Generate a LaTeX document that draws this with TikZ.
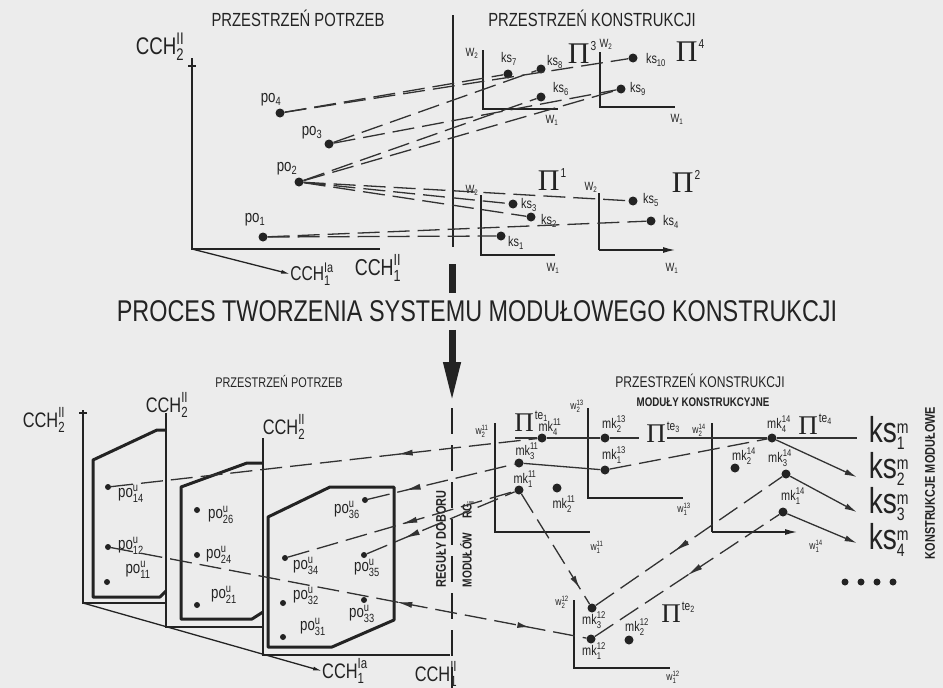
\documentclass[tikz,border=0pt]{standalone}
\usepackage{amsmath}
\usepackage{fontspec}
\setmainfont[FakeStretch=0.78]{Liberation Sans}
\newfontfamily\pifont{Liberation Serif}
\usetikzlibrary{
  arrows.meta,
  positioning,
  calc,
  decorations.markings
}
\definecolor{inkcolor}{RGB}{35, 35, 35}
\definecolor{papercolor}{RGB}{236, 236, 236}
\definecolor{linkcolor}{RGB}{50, 50, 50}
\newcommand{\fsz}[1]{\fontsize{#1}{#1}\selectfont}
\newcommand{\lbsub}[3]{$\text{#1}^{\text{#2}}_{\text{#3}}$}
\newcommand{\bigpi}[3]{{\pifont\fsz{#1}Π}\hspace{1pt}\raisebox{#2}{\fsz{13}#3}}
\tikzset{
axisline/.style={
  draw=inkcolor,
  line width=1.3pt
},
regionline/.style={
  draw=inkcolor,
  line width=3pt,
  line join=round
},
linkline/.style={
  draw=linkcolor,
  line width=1.3pt,
  dash pattern=on 22pt off 8pt
},
plainlink/.style={
  draw=linkcolor,
  line width=1.3pt
},
gapline/.style={
  draw=inkcolor,
  line width=1.8pt,
  dash pattern=on 26pt off 11pt
},
dotnode/.style={
  circle,
  fill=inkcolor,
  inner sep=0pt,
  minimum size=9pt
},
smalldot/.style={
  circle,
  fill=inkcolor,
  inner sep=0pt,
  minimum size=6pt
},
lbl/.style={
  text=inkcolor,
  inner sep=0pt,
  font=\fsz{14}
},
backtip/.style={
  postaction={decorate, decoration={markings,
    mark=at position #1 with {\arrowreversed{Latex[length=16pt,width=6pt]}}}}
},
fwdtip/.style={
  postaction={decorate, decoration={markings,
    mark=at position #1 with {\arrow{Latex[length=12pt,width=6pt]}}}}
},
endtip/.style={
  -{Latex[length=12pt,width=6pt]}
}
}

\begin{document}
\begin{tikzpicture}[x=1pt, y=-1pt]
  \useasboundingbox (0,0) rectangle (943,688);
  \fill[papercolor] (0,0) rectangle (943,688);

  % upper part: needs space
  \node[lbl, font=\fsz{19}] (needsA) at (298,18) {PRZESTRZEŃ POTRZEB};
  \node[lbl, font=\fsz{19}] (constrA) at (592,18) {PRZESTRZEŃ KONSTRUKCJI};
  \coordinate (oA) at (192,249);
  \draw[axisline] (192,58) -- (oA) -- (380,249);
  \draw[axisline] (188,66) -- (196,66);
  \node[lbl, font=\fsz{24}] (cch2A) at (160,47) {\lbsub{CCH}{II}{2}};
  \node[lbl, font=\fsz{20}] (cch1aA) at (312,274) {\lbsub{CCH}{Ia}{1}};
  \node[lbl, font=\fsz{23}] (cch1bA) at (378,268) {\lbsub{CCH}{II}{1}};
  \draw[axisline, -{Latex[length=9pt,width=4pt]}] (oA) -- (cch1aA.west);

  \node[dotnode] (po4) at (280,113) {};
  \node[dotnode] (po3) at (329,144) {};
  \node[dotnode] (po2) at (299,182) {};
  \node[dotnode] (po1) at (263,237) {};
  \node[lbl, font=\fsz{17}] (po4l) at (271,100) {po$_{\text{4}}$};
  \node[lbl, font=\fsz{17}] (po3l) at (312,133) {po$_{\text{3}}$};
  \node[lbl, font=\fsz{17}] (po2l) at (287,169) {po$_{\text{2}}$};
  \node[lbl, font=\fsz{17}] (po1l) at (255,220) {po$_{\text{1}}$};

  \coordinate (sepA) at (453,15);
  \coordinate (sepAb) at (453,247);
  \draw[axisline] (sepA) -- (sepAb);

  % upper part: construction space
  \coordinate (oP3) at (483,109);
  \draw[axisline] (483,50) -- (oP3) -- (558,109);
  \coordinate (oP4) at (600,107);
  \draw[axisline] (600,52) -- (oP4) -- (675,107);
  \coordinate (oP1) at (481,255);
  \draw[axisline] (481,195) -- (oP1) -- (555,255);
  \coordinate (oP2) at (599,250);
  \draw[axisline] (599,193) -- (oP2);
  \draw[axisline, endtip] (oP2) -- (675,250);

  \node[lbl, font=\fsz{12}] (w2P3) at (472,53) {W$_{\text{2}}$};
  \node[lbl, font=\fsz{12}] (w1P3) at (552,120) {W$_{\text{1}}$};
  \node[lbl, font=\fsz{12}] (w2P4) at (606,44) {W$_{\text{2}}$};
  \node[lbl, font=\fsz{12}] (w1P4) at (677,119) {W$_{\text{1}}$};
  \node[lbl, font=\fsz{12}] (w2P1) at (472,190) {W$_{\text{2}}$};
  \node[lbl, font=\fsz{12}] (w1P1) at (553,268) {W$_{\text{1}}$};
  \node[lbl, font=\fsz{12}] (w2P2) at (591,187) {W$_{\text{2}}$};
  \node[lbl, font=\fsz{12}] (w1P2) at (672,268) {W$_{\text{1}}$};

  \node[lbl] (pi3) at (582,52) {\bigpi{30}{13pt}{3}};
  \node[lbl] (pi4) at (690,51) {\bigpi{30}{13pt}{4}};
  \node[lbl] (pi1) at (552,180) {\bigpi{30}{13pt}{1}};
  \node[lbl] (pi2) at (686,181) {\bigpi{30}{13pt}{2}};

  \node[dotnode] (ks7) at (508,74) {};
  \node[dotnode] (ks8) at (541,69) {};
  \node[dotnode] (ks6) at (541,97) {};
  \node[dotnode] (ks10) at (633,58) {};
  \node[dotnode] (ks9) at (621,89) {};
  \node[dotnode] (ks3) at (513,204) {};
  \node[dotnode] (ks2) at (531,217) {};
  \node[dotnode] (ks1) at (501,236) {};
  \node[dotnode] (ks5) at (633,201) {};
  \node[dotnode] (ks4) at (651,221) {};
  \node[lbl, font=\fsz{14}] (ks7l) at (509,59) {ks$_{\text{7}}$};
  \node[lbl, font=\fsz{14}] (ks8l) at (555,62) {ks$_{\text{8}}$};
  \node[lbl, font=\fsz{14}] (ks6l) at (561,89) {ks$_{\text{6}}$};
  \node[lbl, font=\fsz{14}] (ks10l) at (656,60) {ks$_{\text{10}}$};
  \node[lbl, font=\fsz{14}] (ks9l) at (638,89) {ks$_{\text{9}}$};
  \node[lbl, font=\fsz{14}] (ks3l) at (529,205) {ks$_{\text{3}}$};
  \node[lbl, font=\fsz{14}] (ks2l) at (549,221) {ks$_{\text{2}}$};
  \node[lbl, font=\fsz{14}] (ks1l) at (516,243) {ks$_{\text{1}}$};
  \node[lbl, font=\fsz{14}] (ks5l) at (651,200) {ks$_{\text{5}}$};
  \node[lbl, font=\fsz{14}] (ks4l) at (671,222) {ks$_{\text{4}}$};

  \draw[linkline] (po4) -- (ks7);
  \draw[linkline] (po4) -- (ks10);
  \draw[linkline] (po3) -- (ks8);
  \draw[linkline] (po3) -- (ks9);
  \draw[linkline] (po2) -- (ks6);
  \draw[linkline] (po2) -- (ks9);
  \draw[linkline] (po2) -- (ks3);
  \draw[linkline] (po2) -- (ks2);
  \draw[linkline] (po2) -- (ks5);
  \draw[linkline] (po1) -- (ks1);
  \draw[linkline] (po1) -- (ks4);

  % process title and arrow
  \coordinate (barT) at (452,264);
  \coordinate (barB) at (452,293);
  \draw[inkcolor, line width=7pt] (barT) -- (barB);
  \node[lbl, font=\fsz{30}] (title) at (477,311) {PROCES TWORZENIA SYSTEMU MODUŁOWEGO KONSTRUKCJI};
  \coordinate (arrowtip) at (452,402);
  \draw[inkcolor, line width=7pt, -{Triangle[length=40pt,width=16pt]}]
    ($(title.south -| barB)+(0,8)$) -- (arrowtip);

  % lower part: needs spaces
  \node[lbl, font=\fsz{14}] (needsB) at (279,381) {PRZESTRZEŃ POTRZEB};
  \node[lbl, font=\fsz{15.5}] (constrB) at (700,381) {PRZESTRZEŃ KONSTRUKCJI};
  \node[lbl, font=\bfseries\fsz{12.5}] (modules) at (703,402) {MODUŁY KONSTRUKCYJNE};

  \coordinate (o1) at (83,603);
  \coordinate (o2) at (166,627);
  \coordinate (o3) at (263,655);
  \draw[axisline] (83,410) -- (o1) -- (166,603);
  \draw[axisline] (79,413) -- (87,413);
  \draw[axisline] (166,413) -- (o2) -- (263,627);
  \draw[axisline] (263,438) -- (o3) -- (450,655);
  \draw[regionline] (166,430) -- (157,430) -- (93,460) -- (93,597) -- (160,597) -- (166,591);
  \draw[regionline] (263,463) -- (247,463) -- (181,487) -- (181,619) -- (252,619) -- (263,612);
  \draw[regionline] (268,517) -- (330,487) -- (394,487) -- (394,620) -- (332,647) -- (268,647) -- cycle;

  \node[lbl, font=\fsz{21}] (cch2B1) at (44,420) {\lbsub{CCH}{II}{2}};
  \node[lbl, font=\fsz{21}] (cch2B2) at (167,405) {\lbsub{CCH}{II}{2}};
  \node[lbl, font=\fsz{21}] (cch2B3) at (284,427) {\lbsub{CCH}{II}{2}};
  \node[lbl, font=\fsz{21}] (cch1aB) at (345,671) {\lbsub{CCH}{Ia}{1}};
  \node[lbl, font=\fsz{21}] (cch1bB) at (436,674) {\lbsub{CCH}{II}{1}};
  \draw[axisline, -{Latex[length=9pt,width=4pt]}] (o1) -- (cch1aB.west);

  \node[smalldot] (po14) at (108,487) {};
  \node[smalldot] (po12) at (108,547) {};
  \node[smalldot] (po11) at (107,582) {};
  \node[smalldot] (po26) at (197,510) {};
  \node[smalldot] (po24) at (197,555) {};
  \node[smalldot] (po21) at (197,605) {};
  \node[smalldot] (po36) at (365,500) {};
  \node[smalldot] (po34) at (285,558) {};
  \node[smalldot] (po35) at (364,555) {};
  \node[smalldot] (po32) at (283,603) {};
  \node[smalldot] (po33) at (364,600) {};
  \node[smalldot] (po31) at (283,637) {};
  \node[lbl, font=\fsz{17}] (po14l) at (131,494) {\lbsub{po}{u}{14}};
  \node[lbl, font=\fsz{17}] (po12l) at (131,546) {\lbsub{po}{u}{12}};
  \node[lbl, font=\fsz{17}] (po11l) at (138,570) {\lbsub{po}{u}{11}};
  \node[lbl, font=\fsz{17}] (po26l) at (221,515) {\lbsub{po}{u}{26}};
  \node[lbl, font=\fsz{17}] (po24l) at (219,555) {\lbsub{po}{u}{24}};
  \node[lbl, font=\fsz{17}] (po21l) at (224,595) {\lbsub{po}{u}{21}};
  \node[lbl, font=\fsz{17}] (po36l) at (347,510) {\lbsub{po}{u}{36}};
  \node[lbl, font=\fsz{17}] (po34l) at (306,566) {\lbsub{po}{u}{34}};
  \node[lbl, font=\fsz{17}] (po35l) at (367,568) {\lbsub{po}{u}{35}};
  \node[lbl, font=\fsz{17}] (po32l) at (306,596) {\lbsub{po}{u}{32}};
  \node[lbl, font=\fsz{17}] (po33l) at (362,614) {\lbsub{po}{u}{33}};
  \node[lbl, font=\fsz{17}] (po31l) at (313,627) {\lbsub{po}{u}{31}};

  % selection rules
  \coordinate (sepB) at (452,408);
  \coordinate (sepBb) at (452,688);
  \draw[gapline] (sepB) -- (sepBb);
  \node[lbl, font=\bfseries\fsz{14}, rotate=90] (rules) at (441,539) {REGUŁY DOBORU};
  \node[lbl, font=\bfseries\fsz{13}, rotate=90] (rulesB) at (467,544) {MODUŁÓW\hspace{14pt}RG$_{\text{i}}$};

  % lower part: construction modules
  \coordinate (oT1) at (495,532);
  \draw[axisline] (495,423) -- (oT1) -- (590,532);
  \coordinate (oT3) at (588,498);
  \draw[axisline] (588,408) -- (oT3) -- (683,498);
  \coordinate (oT4) at (712,532);
  \draw[axisline] (712,423) -- (oT4);
  \draw[axisline, endtip] (oT4) -- (797,532);
  \coordinate (oT2) at (574,668);
  \draw[axisline] (574,600) -- (oT2) -- (670,668);

  \node[lbl, font=\fsz{11}] (w2T1) at (482,431) {\lbsub{w}{11}{2}};
  \node[lbl, font=\fsz{11}] (w1T1) at (597,547) {\lbsub{w}{11}{1}};
  \node[lbl, font=\fsz{11}] (w2T3) at (577,406) {\lbsub{w}{13}{2}};
  \node[lbl, font=\fsz{11}] (w1T3) at (684,509) {\lbsub{w}{13}{1}};
  \node[lbl, font=\fsz{11}] (w2T4) at (699,430) {\lbsub{w}{14}{2}};
  \node[lbl, font=\fsz{11}] (w1T4) at (816,546) {\lbsub{w}{14}{1}};
  \node[lbl, font=\fsz{11}] (w2T2) at (562,602) {\lbsub{w}{12}{2}};
  \node[lbl, font=\fsz{11}] (w1T2) at (673,677) {\lbsub{w}{12}{1}};

  \node[lbl] (pit1) at (531,421) {\bigpi{27}{12pt}{te$_{\text{1}}$}};
  \node[lbl] (pit3) at (663,432) {\bigpi{27}{12pt}{te$_{\text{3}}$}};
  \node[lbl] (pit4) at (815,424) {\bigpi{27}{12pt}{te$_{\text{4}}$}};
  \node[lbl] (pit2) at (678,612) {\bigpi{27}{12pt}{te$_{\text{2}}$}};

  \node[dotnode] (mk411) at (542,438) {};
  \node[dotnode] (mk311) at (519,463) {};
  \node[dotnode] (mk111) at (519,490) {};
  \node[dotnode] (mk211) at (557,488) {};
  \node[dotnode] (mk213) at (605,438) {};
  \node[dotnode] (mk113) at (605,470) {};
  \node[dotnode] (mk414) at (772,438) {};
  \node[dotnode] (mk214) at (735,468) {};
  \node[dotnode] (mk314) at (786,474) {};
  \node[dotnode] (mk114) at (783,512) {};
  \node[dotnode] (mk312) at (592,608) {};
  \node[dotnode] (mk112) at (591,639) {};
  \node[dotnode] (mk212) at (629,640) {};
  \node[lbl] (mk411l) at (550,427) {\lbsub{mk}{11}{4}};
  \node[lbl] (mk311l) at (527,451) {\lbsub{mk}{11}{3}};
  \node[lbl] (mk111l) at (525,479) {\lbsub{mk}{11}{1}};
  \node[lbl] (mk211l) at (564,504) {\lbsub{mk}{11}{2}};
  \node[lbl] (mk213l) at (614,424) {\lbsub{mk}{13}{2}};
  \node[lbl] (mk113l) at (614,455) {\lbsub{mk}{13}{1}};
  \node[lbl] (mk414l) at (779,424) {\lbsub{mk}{14}{4}};
  \node[lbl] (mk214l) at (744,456) {\lbsub{mk}{14}{2}};
  \node[lbl] (mk314l) at (780,458) {\lbsub{mk}{14}{3}};
  \node[lbl] (mk114l) at (793,496) {\lbsub{mk}{14}{1}};
  \node[lbl] (mk312l) at (594,620) {\lbsub{mk}{12}{3}};
  \node[lbl] (mk112l) at (594,651) {\lbsub{mk}{12}{1}};
  \node[lbl] (mk212l) at (637,627) {\lbsub{mk}{12}{2}};

  % modular constructions
  \node[lbl, font=\fsz{36}] (ks1m) at (889,433) {ks$^{\scriptscriptstyle\text{m}}_{\scriptscriptstyle\text{1}}$};
  \node[lbl, font=\fsz{36}] (ks2m) at (889,469) {ks$^{\scriptscriptstyle\text{m}}_{\scriptscriptstyle\text{2}}$};
  \node[lbl, font=\fsz{36}] (ks3m) at (889,504) {ks$^{\scriptscriptstyle\text{m}}_{\scriptscriptstyle\text{3}}$};
  \node[lbl, font=\fsz{36}] (ks4m) at (889,540) {ks$^{\scriptscriptstyle\text{m}}_{\scriptscriptstyle\text{4}}$};
  \foreach \i/\x in {1/845, 2/861, 3/877, 4/893}
    \node[dotnode, minimum size=7pt] (more\i) at (\x,582) {};
  \node[lbl, font=\bfseries\fsz{14}, rotate=90] (modsys) at (930,483) {KONSTRUKCJE MODUŁOWE};

  % connections in the lower part
  \draw[linkline, backtip=0.67] (po14) -- (mk411);
  \draw[linkline, backtip=0.25] (po36) -- (mk311);
  \draw[linkline, backtip=0.5] (po34) -- (mk111);
  \draw[linkline, backtip=0.25] (po35) -- (mk111);
  \draw[linkline, backtip=0.6, fwdtip=0.88] (po12) -- (mk112);
  \draw[linkline, fwdtip=0.85] (mk111) -- (mk312);
  \draw[plainlink] (mk311) -- (mk113);
  \draw[linkline] (mk113) -- (mk414);
  \draw[plainlink] (mk411) -- ++(-27,0);
  \draw[plainlink] (mk411) -- (mk213);
  \draw[plainlink] (mk213) -- ++(34,0);
  \draw[plainlink] (mk414) -- ++(-105,0);
  \draw[plainlink, shorten >=12pt] (mk414) -- (mk414 -| ks1m.west);
  \draw[plainlink, endtip] (mk414) -- ($(ks2m.west)+(-12,8)$);
  \draw[plainlink, endtip] (mk314) -- ($(ks3m.west)+(-12,8)$);
  \draw[plainlink, endtip] (mk114) -- ($(ks4m.west)+(-12,3)$);
  \draw[linkline, backtip=0.42] (mk312) -- (mk314);
  \draw[linkline, backtip=0.5] (mk112) -- (mk114);
\end{tikzpicture}
\end{document}
